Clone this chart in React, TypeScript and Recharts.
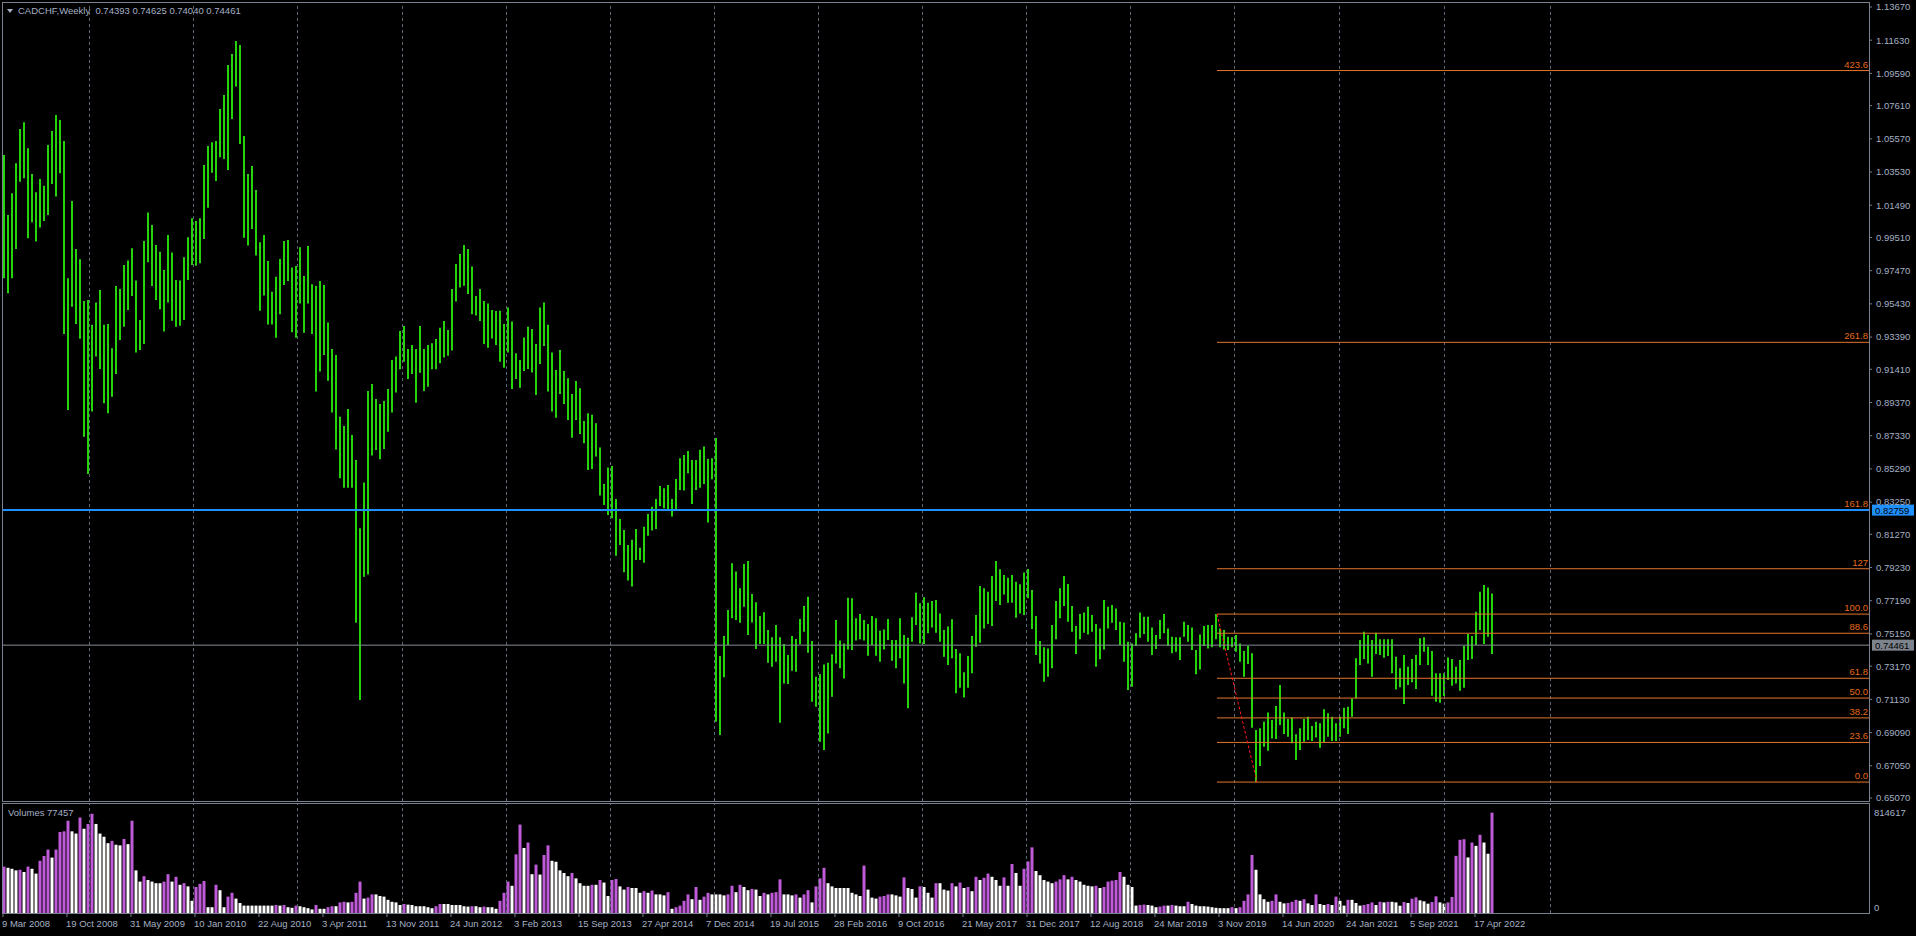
import React from "react";
import { ComposedChart, Bar, XAxis, YAxis, ReferenceLine, Cell } from "recharts";

const highA = [
  1.0458, 1.0089, 1.0222, 1.0407, 1.0618, 1.0659, 1.0499, 1.0341, 1.0229, 1.0311,
  1.0268, 1.0519, 1.0605, 1.0704, 1.0673, 1.0544, 0.97, 1.0175, 0.988, 0.9817,
  0.9561, 0.9567, 0.9414, 0.9551, 0.9629, 0.9414, 0.942, 0.927, 0.9653, 0.9635,
  0.9782, 0.9809, 0.9885, 0.9686, 0.9444, 0.993, 1.0104, 1.0028, 0.9905, 0.9864,
  0.9751, 0.9966, 0.9858, 0.969, 0.9686, 0.9829, 0.9952, 1.0069, 1.0052, 1.0069,
  1.0397, 1.0513, 1.0536, 1.0544, 1.0741, 1.0827, 1.1011, 1.1079, 1.1158, 1.1134,
  1.0575, 1.0341, 1.039, 1.0243,
];
const lowA = [
  0.97, 0.9608, 0.97, 0.988, 1.0294, 1.0315, 0.9946, 1.0044, 0.9926, 1.0012,
  1.0052, 1.0089, 1.028, 1.0202, 1.0345, 0.9358, 0.8891, 0.9526, 0.942, 0.9328,
  0.8727, 0.8498, 0.8881, 0.9219, 0.9143, 0.8932, 0.8871, 0.8973, 0.9112, 0.9321,
  0.9403, 0.9506, 0.9592, 0.9244, 0.926, 0.9297, 0.9799, 0.9653, 0.9567, 0.951,
  0.9373, 0.9551, 0.944, 0.9403, 0.9409, 0.9444, 0.969, 0.9782, 0.9778, 0.9792,
  0.9942, 1.0134, 1.0349, 1.0298, 1.0444, 1.0433, 1.0366, 1.0679, 1.0878, 1.0526,
  0.995, 0.9901, 1.0003, 0.984,
];
const highB = [
  0.9921, 0.9966, 0.9807, 0.9618, 0.971, 0.9819, 0.9929, 0.9936, 0.9766, 0.9776,
  0.9891, 0.9714, 0.9899, 0.9663, 0.9653, 0.9684, 0.9659, 0.9428, 0.9266, 0.9229,
  0.885, 0.8793, 0.8897, 0.8737, 0.8584, 0.8164, 0.8445, 0.9008, 0.9051, 0.8959,
  0.8928, 0.8946, 0.902, 0.9198, 0.9219, 0.9376, 0.9407, 0.9266, 0.929, 0.9266,
  0.9407, 0.9266, 0.929, 0.9301, 0.9327, 0.9397, 0.9438, 0.9383, 0.9635, 0.9788,
  0.985, 0.9905, 0.988, 0.9772, 0.9591, 0.9635, 0.9561, 0.9546, 0.9505, 0.9499,
];
const lowB = [
  0.9501, 0.9594, 0.9417, 0.9417, 0.9335, 0.9479, 0.9659, 0.9684, 0.9368, 0.9335,
  0.9546, 0.9366, 0.9546, 0.9358, 0.9004, 0.9127, 0.9229, 0.9071, 0.8875, 0.8649,
  0.8471, 0.8414, 0.8414, 0.8414, 0.7584, 0.7109, 0.7867, 0.7881, 0.8611, 0.8645,
  0.8588, 0.8651, 0.8758, 0.8875, 0.8998, 0.9141, 0.9188, 0.9082, 0.9112, 0.8936,
  0.912, 0.9008, 0.9034, 0.9141, 0.9141, 0.9178, 0.9213, 0.9225, 0.9256, 0.9557,
  0.9643, 0.9655, 0.9604, 0.9479, 0.9471, 0.9438, 0.9297, 0.9274, 0.9331, 0.929,
];
const highC = [
  0.95, 0.942, 0.952, 0.9434, 0.9239, 0.9198, 0.9336, 0.9403, 0.9389, 0.9297,
  0.952, 0.9551, 0.9414, 0.9244, 0.9137, 0.926, 0.9131, 0.9086, 0.899, 0.9069,
  0.9024, 0.8824, 0.8871, 0.8861, 0.8809, 0.866, 0.8437, 0.8537, 0.8547, 0.8344,
  0.8222, 0.8154, 0.8062, 0.8093, 0.816, 0.8045, 0.8174, 0.8252, 0.8297, 0.8344,
  0.8424, 0.841, 0.843, 0.8344, 0.8467, 0.8594, 0.8615, 0.8639, 0.8584, 0.8584,
  0.8646, 0.8666, 0.859, 0.8594, 0.8719, 0.738, 0.7503, 0.7662, 0.7949, 0.7898,
];
const lowC = [
  0.9188, 0.9151, 0.9244, 0.902, 0.9082, 0.9028, 0.9131, 0.9143, 0.9121, 0.8983,
  0.9174, 0.9284, 0.9004, 0.8881, 0.8844, 0.899, 0.8928, 0.883, 0.8721, 0.883,
  0.8744, 0.8686, 0.8523, 0.8529, 0.8605, 0.8365, 0.8308, 0.8246, 0.8226, 0.7996,
  0.8062, 0.7894, 0.7843, 0.7806, 0.797, 0.797, 0.7953, 0.8119, 0.815, 0.816,
  0.8301, 0.8287, 0.8273, 0.8236, 0.8277, 0.84, 0.8396, 0.8502, 0.8314, 0.84,
  0.8414, 0.8437, 0.8199, 0.8465, 0.6976, 0.6894, 0.7249, 0.7447, 0.7611, 0.7601,
];
const highD = [
  0.7795, 0.7945, 0.7963, 0.776, 0.7709, 0.7625, 0.7648, 0.7539, 0.7494, 0.757,
  0.7494, 0.7453, 0.7385, 0.7502, 0.7484, 0.7607, 0.7686, 0.7744, 0.7471, 0.7252,
  0.7267, 0.7328, 0.7338, 0.739, 0.76, 0.7474, 0.7457, 0.7738, 0.7734, 0.7611,
  0.7637, 0.76, 0.7576, 0.7625, 0.7611, 0.7535, 0.7543, 0.7607, 0.7478, 0.7478,
  0.7611, 0.7508, 0.7492, 0.7617, 0.7768, 0.7703, 0.774, 0.7707, 0.7717, 0.7723,
  0.7641, 0.7539, 0.756, 0.7605, 0.7422, 0.7396, 0.7279, 0.7379, 0.7502, 0.7631,
  0.7809, 0.7795, 0.7775, 0.7871, 0.7963, 0.7912, 0.7877, 0.7861, 0.7877, 0.7836,
  0.782, 0.7893, 0.7914, 0.7785, 0.7625, 0.7471, 0.7433, 0.7426, 0.757, 0.7717,
  0.7795, 0.7871, 0.7822, 0.7686, 0.7564, 0.7637, 0.7646, 0.7682, 0.7631, 0.7576,
  0.7549, 0.7723, 0.7682, 0.7693, 0.7672, 0.759, 0.7586, 0.7467, 0.7457, 0.7519,
  0.7646, 0.7621, 0.7621, 0.7555, 0.7508, 0.76, 0.7637, 0.7549, 0.7498, 0.7494,
  0.7494, 0.759, 0.757, 0.7555, 0.7416, 0.7512, 0.7564, 0.757, 0.757,
];
const lowD = [
  0.7584, 0.7682, 0.7508, 0.7586, 0.7422, 0.7453, 0.7453, 0.7338, 0.7314, 0.7344,
  0.697, 0.7211, 0.7207, 0.7289, 0.7283, 0.7451, 0.7529, 0.74, 0.7099, 0.7068,
  0.6853, 0.6802, 0.6904, 0.7129, 0.7334, 0.7304, 0.7242, 0.742, 0.7416, 0.7474,
  0.7482, 0.7474, 0.7381, 0.7447, 0.7381, 0.7344, 0.742, 0.7478, 0.7351, 0.7304,
  0.7365, 0.7211, 0.7058, 0.7467, 0.757, 0.7457, 0.7453, 0.7519, 0.7555, 0.7523,
  0.7467, 0.7375, 0.7324, 0.7365, 0.715, 0.7185, 0.7125, 0.7185, 0.7273, 0.7437,
  0.7461, 0.7549, 0.7576, 0.7564, 0.7717, 0.7693, 0.7758, 0.7707, 0.7707, 0.7615,
  0.7641, 0.7631, 0.7734, 0.7545, 0.7385, 0.7334, 0.7222, 0.7252, 0.7304, 0.7482,
  0.7611, 0.7686, 0.759, 0.7529, 0.7392, 0.7482, 0.7523, 0.7512, 0.7529, 0.7314,
  0.7359, 0.742, 0.7549, 0.7584, 0.7539, 0.7447, 0.7344, 0.717, 0.7191, 0.7441,
  0.7492, 0.7514, 0.7467, 0.7385, 0.7422, 0.7484, 0.7519, 0.7441, 0.7396, 0.7406,
  0.7355, 0.7498, 0.7467, 0.7416, 0.7267, 0.7297, 0.7441, 0.7426, 0.7433,
];
const highE = [
  0.7637, 0.7549, 0.7539, 0.7498, 0.7494, 0.7508, 0.7457, 0.741, 0.7441, 0.7396,
  0.6925, 0.6935, 0.6976, 0.7033, 0.6986, 0.7072, 0.7201, 0.7033, 0.6992, 0.7002,
  0.6898, 0.6935, 0.6992, 0.7007, 0.6949, 0.6976, 0.6966, 0.7052, 0.7027, 0.7007,
  0.6966, 0.7007, 0.7062, 0.7068, 0.7119, 0.7365, 0.7478, 0.7529, 0.7508, 0.7478,
  0.7523, 0.7482, 0.7482, 0.7482, 0.7482, 0.7375, 0.7304, 0.7385, 0.7314, 0.7361,
  0.7385, 0.7488, 0.7494, 0.7437, 0.741, 0.7273, 0.7273, 0.7273, 0.7371, 0.7361,
  0.7314, 0.7355, 0.7441, 0.7514, 0.7502, 0.7652, 0.7775, 0.7816, 0.7801, 0.7764,
];
const lowE = [
  0.7482, 0.7433, 0.742, 0.7416, 0.7433, 0.7406, 0.7344, 0.7252, 0.733, 0.6939,
  0.6605, 0.6703, 0.6822, 0.6798, 0.6873, 0.6869, 0.6955, 0.69, 0.6884, 0.6843,
  0.674, 0.6802, 0.6853, 0.6863, 0.6857, 0.6878, 0.6816, 0.6849, 0.6884, 0.6857,
  0.6857, 0.6884, 0.6935, 0.69, 0.7007, 0.7119, 0.7324, 0.7361, 0.7334, 0.7252,
  0.7392, 0.7385, 0.7369, 0.7379, 0.7273, 0.7174, 0.7187, 0.7084, 0.7201, 0.7218,
  0.7177, 0.7324, 0.7406, 0.7324, 0.7136, 0.7099, 0.7093, 0.7134, 0.7232, 0.7197,
  0.7211, 0.7166, 0.7185, 0.7355, 0.7361, 0.7447, 0.7539, 0.7453, 0.7498, 0.7392,
];

// volumes, thousands, same two-week buckets
const volA = [
  377, 367, 359, 346, 351, 333, 377, 359, 320, 424,
  463, 515, 450, 515, 658, 663, 749, 663, 645, 775,
  684, 723, 806, 723, 645, 619, 567, 585, 554, 549,
  601, 559, 749, 346, 255, 299, 268, 255, 242, 242,
  255, 315, 255, 294, 229, 242, 216, 99, 211, 237,
  260, 47, 47, 229, 185, 47, 133, 164, 117, 81,
  60, 60, 60, 60,
];
const volB = [
  60, 60, 60, 60, 65, 60, 65, 47, 42, 60,
  55, 47, 39, 29, 65, 34, 34, 47, 55, 55,
  86, 91, 86, 91, 164, 255, 117, 125, 151, 151,
  138, 133, 107, 91, 86, 65, 73, 68, 65, 55,
  55, 55, 47, 39, 55, 73, 73, 73, 65, 65,
  65, 55, 52, 55, 55, 47, 52, 47, 47, 34,
];
const volC = [
  99, 164, 255, 221, 476, 718, 528, 572, 315, 393,
  312, 471, 549, 424, 416, 346, 325, 299, 325, 281,
  242, 221, 221, 229, 229, 268, 247, 138, 268, 276,
  216, 190, 211, 203, 203, 164, 177, 164, 182, 151,
  151, 143, 169, 34, 47, 60, 99, 151, 112, 211,
  107, 133, 164, 151, 151, 151, 143, 151, 221, 169,
];
const volD = [
  229, 211, 185, 195, 190, 138, 164, 151, 164, 169,
  273, 151, 151, 143, 151, 125, 151, 185, 86, 216,
  281, 367, 242, 216, 203, 203, 203, 203, 164, 151,
  138, 385, 190, 125, 117, 133, 138, 151, 151, 143,
  133, 289, 203, 195, 125, 216, 211, 164, 125, 242,
  242, 190, 182, 242, 216, 247, 203, 211, 177, 294,
  268, 286, 320, 294, 268, 221, 289, 221, 398, 325,
  221, 359, 419, 533, 341, 307, 268, 255, 242, 255,
  273, 307, 273, 294, 268, 255, 229, 221, 216, 221,
  203, 211, 255, 263, 268, 333, 294, 229, 211, 60,
  65, 68, 65, 60, 47, 52, 60, 60, 65, 60,
  55, 55, 91, 73, 60, 55, 55, 52, 47,
];
const volE = [
  42, 39, 39, 39, 47, 39, 47, 99, 151, 471,
  351, 151, 112, 91, 99, 151, 91, 78, 81, 91,
  107, 99, 112, 78, 65, 151, 73, 65, 73, 65,
  133, 99, 60, 107, 107, 81, 60, 65, 73, 86,
  65, 91, 86, 91, 91, 86, 59, 89, 81, 116,
  127, 103, 95, 76, 89, 135, 86, 76, 86, 130,
  464, 594, 599, 451, 572, 545, 635, 572, 481, 814.617,
];

const priceTicks = [
  1.1367, 1.1163, 1.0959, 1.0761, 1.0557, 1.0353, 1.0149, 0.9951, 0.9747, 0.9543,
  0.9339, 0.9141, 0.8937, 0.8733, 0.8529, 0.8325, 0.8127, 0.7923, 0.7719, 0.7515,
  0.7317, 0.7113, 0.6909, 0.6705, 0.6507,
];
// weeks since 9 Mar 2008
const labelWeeks = [0, 32, 64, 96, 128, 160, 192, 224, 256, 288, 320, 352, 384, 416, 448, 480, 512, 544, 576, 608, 640, 672, 704, 736];
const dateLabels = [
  "9 Mar 2008", "19 Oct 2008", "31 May 2009", "10 Jan 2010", "22 Aug 2010", "3 Apr 2011",
  "13 Nov 2011", "24 Jun 2012", "3 Feb 2013", "15 Sep 2013", "27 Apr 2014", "7 Dec 2014",
  "19 Jul 2015", "28 Feb 2016", "9 Oct 2016", "21 May 2017", "31 Dec 2017", "12 Aug 2018",
  "24 Mar 2019", "3 Nov 2019", "14 Jun 2020", "24 Jan 2021", "5 Sep 2021", "17 Apr 2022",
];
const yearGridWeeks = [43.25, 95.25, 147.25, 199.75, 251.75, 303.75, 355.75, 407.75, 459.75, 511.75, 563.75, 615.75, 668.25, 720.75, 773.75];

const fibLevels = [0, 23.6, 38.2, 50, 61.8, 88.6, 100, 127, 161.8, 261.8, 423.6];
const fibTexts = ["0.0", "23.6", "38.2", "50.0", "61.8", "88.6", "100.0", "127", "161.8", "261.8", "423.6"];
const fibLow = 0.6605;
const fibHigh = 0.7637;
const fibFromWeek = 607;
const fibLowWeek = 627;

const blueLevel = 0.82759;
const bidLevel = 0.74461;
const ohlc = ["0.74393", "0.74625", "0.74040", "0.74461"];
const lastVolume = 77457;

const highs = [...highA, ...highB, ...highC, ...highD, ...highE];
const lows = [...lowA, ...lowB, ...lowC, ...lowD, ...lowE];
const vols = [...volA, ...volB, ...volC, ...volD, ...volE];

const rows = highs.map((h, k) => ({
  w: 2 * k + 0.5,
  wv: 2 * k + 0.75,
  hl: [lows[k], h],
  vol: vols[k],
  up: k === 0 || vols[k] > vols[k - 1],
}));

const FONT = "'Liberation Sans', Arial, sans-serif";
const FS = 9.5;
const TEXT = "#a4b0c4";
const AXIS = "#788291";
const GRID = "#5d6677";
const GREEN = "#26d40c";
const PURPLE = "#bf5bd9";
const FIB = "#e5752a";
const FIB_TEXT = "#e56a1a";
const BLUE = "#1e90ff";
const BID = "#868c95";

const W_MAX = 933;
const PRICE_MIN = 0.64886;
const PRICE_MAX = 1.13916;
const VOL_MAX = 893;

const priceBox = (text: string, bg: string) => (props: any) => {
  const vb = props.viewBox || {};
  const x = (vb.x ?? 0) + (vb.width ?? 0) + 3;
  const y = vb.y ?? 0;
  return (
    <g>
      <rect x={x} y={y - 5.5} width={42} height={11} fill={bg} />
      <text x={x + 3} y={y + 3.5} fill="#000" fontSize={FS} fontFamily={FONT}>{text}</text>
    </g>
  );
};

const fibLabel = (text: string) => (props: any) => {
  const vb = props.viewBox || {};
  const right = (vb.x ?? 0) + (vb.width ?? 0);
  return (
    <text x={right - 1} y={(vb.y ?? 0) - 3} textAnchor="end" fill={FIB_TEXT} fontSize={FS} fontFamily={FONT}>
      {text}
    </text>
  );
};

const DateTick = (props: any) => {
  const { x, y, payload } = props;
  const idx = labelWeeks.indexOf(payload.value);
  return (
    <text x={x - 1} y={y + 8} textAnchor="start" fill={TEXT} fontSize={FS} fontFamily={FONT}>
      {dateLabels[idx]}
    </text>
  );
};

const VolTick = (props: any) => {
  const { x, y, payload } = props;
  const v = payload.value;
  return (
    <text x={x} y={v === 0 ? y - 2 : y + 3} textAnchor="start" fill={TEXT} fontSize={FS} fontFamily={FONT}>
      {Math.round(v * 1000)}
    </text>
  );
};

const grid = yearGridWeeks.map((w) => (
  <ReferenceLine key={"g" + w} x={w} stroke={GRID} strokeDasharray="3 3" ifOverflow="visible" />
));

const App: React.FC = () => {
  return (
    <div style={{ position: "absolute", left: 0, top: 0, width: 1916, height: 936, background: "#000", overflow: "hidden", fontFamily: FONT }}>
      <div style={{ position: "absolute", left: 0, top: 0 }}>
        <ComposedChart width={1916} height={804} data={rows} margin={{ top: 3, right: 0, bottom: 3, left: 3 }}>
          <XAxis type="number" dataKey="w" domain={[0, W_MAX]} hide />
          <YAxis
            orientation="right"
            width={47}
            domain={[PRICE_MIN, PRICE_MAX]}
            ticks={priceTicks}
            interval={0}
            allowDataOverflow
            tickFormatter={(v: number) => v.toFixed(5)}
            axisLine={false}
            tickLine={{ stroke: AXIS }}
            tickSize={3}
            tickMargin={4}
            tick={{ fill: TEXT, fontSize: FS, fontFamily: FONT }}
          />
          {grid}
          <Bar dataKey="hl" fill={GREEN} barSize={2} isAnimationActive={false} />
          {fibLevels.map((lvl, i) => {
            const p = fibLow + (lvl / 100) * (fibHigh - fibLow);
            return (
              <ReferenceLine
                key={"f" + lvl}
                segment={[{ x: fibFromWeek, y: p }, { x: W_MAX, y: p }]}
                stroke={FIB}
                label={fibLabel(fibTexts[i])}
              />
            );
          })}
          <ReferenceLine
            segment={[{ x: fibFromWeek, y: fibHigh }, { x: fibLowWeek, y: fibLow }]}
            stroke="#ff1a1a"
            strokeDasharray="3 2"
          />
          <ReferenceLine y={bidLevel} stroke={BID} label={priceBox(ohlc[3], "#7d838c")} />
          <ReferenceLine y={blueLevel} stroke={BLUE} strokeWidth={2} label={priceBox(blueLevel.toFixed(5), BLUE)} />
        </ComposedChart>
      </div>

      <div style={{ position: "absolute", left: 0, top: 803 }}>
        <ComposedChart width={1916} height={133} data={rows} margin={{ top: 0, right: 0, bottom: 0, left: 3 }}>
          <XAxis
            type="number"
            dataKey="wv"
            domain={[0, W_MAX]}
            ticks={labelWeeks}
            interval={0}
            height={23}
            axisLine={false}
            tickLine={{ stroke: AXIS }}
            tickSize={4}
            tickMargin={2}
            tick={<DateTick />}
          />
          <YAxis
            orientation="right"
            width={47}
            domain={[0, VOL_MAX]}
            ticks={[0, 814.617]}
            interval={0}
            allowDataOverflow
            axisLine={false}
            tickLine={false}
            tickSize={3}
            tickMargin={2}
            tick={<VolTick />}
          />
          {grid}
          <Bar dataKey="vol" barSize={3} isAnimationActive={false}>
            {rows.map((r, k) => (
              <Cell key={k} fill={r.up ? PURPLE : "#ffffff"} />
            ))}
          </Bar>
        </ComposedChart>
      </div>

      {/* panel frames */}
      <div style={{ position: "absolute", left: 2, top: 2, width: 1868, height: 800, border: `1px solid ${AXIS}`, boxSizing: "border-box", pointerEvents: "none" }} />
      <div style={{ position: "absolute", left: 2, top: 803, width: 1868, height: 111, border: `1px solid ${AXIS}`, boxSizing: "border-box", pointerEvents: "none" }} />

      {/* title */}
      <svg style={{ position: "absolute", left: 0, top: 0 }} width={20} height={20}>
        <polygon points="7,9 13,9 10,13" fill={TEXT} />
      </svg>
      <div style={{ position: "absolute", left: 18, top: 5, fontSize: FS, lineHeight: "12px", color: TEXT, whiteSpace: "pre" }}>
        {"CADCHF,Weekly  " + ohlc.join(" ")}
      </div>
      <div style={{ position: "absolute", left: 8, top: 807, fontSize: FS, lineHeight: "12px", color: TEXT, whiteSpace: "pre" }}>
        {"Volumes " + lastVolume}
      </div>
    </div>
  );
};

export default App;
